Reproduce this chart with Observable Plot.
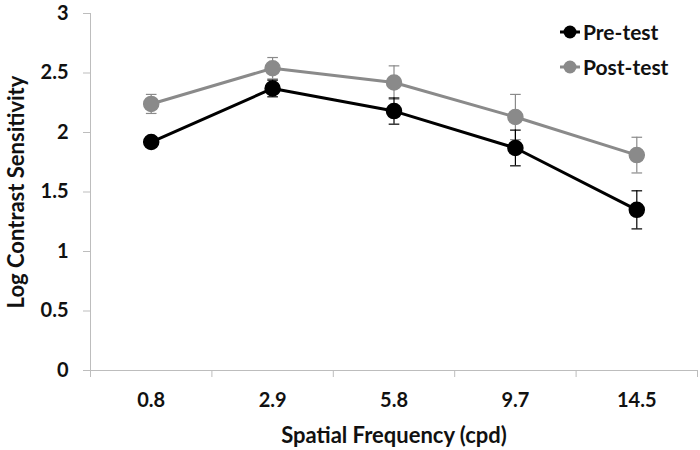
<!DOCTYPE html>
<html>
<head>
<meta charset="utf-8">
<script src="https://cdn.jsdelivr.net/npm/d3@7"></script>
<script src="https://cdn.jsdelivr.net/npm/@observablehq/plot@0.6"></script>
<style>
  html, body { margin: 0; padding: 0; background: #fff; }
  #wrap { position: relative; width: 700px; height: 450px; font-family: Lato, "Open Sans", sans-serif; }
  #legend { position: absolute; left: 559px; top: 14px; font-weight: bold; font-size: 21px; color: #111; }
  .item { display: flex; align-items: center; height: 35px; }
  .item svg { margin-right: 2px; }
</style>
</head>
<body>
<div id="wrap"></div>
<script>
const categories = ["0.8", "2.9", "5.8", "9.7", "14.5"];
const preTest  = [1.92, 2.37, 2.18, 1.87, 1.35];
const postTest = [2.24, 2.54, 2.42, 2.13, 1.81];
const preErr   = [0.03, 0.07, 0.11, 0.15, 0.16];
const postErr  = [0.08, 0.09, 0.14, 0.19, 0.15];
const yTicks   = [0, 0.5, 1, 1.5, 2, 2.5, 3];
const seriesNames = ["Pre-test", "Post-test"];
const seriesColors = ["#000000", "#8a8a8a"];

const rows = [];
[[preTest, preErr], [postTest, postErr]].forEach(([vals, errs], s) => {
  vals.forEach((v, i) => rows.push({series: seriesNames[s], i, v, lo: v - errs[i], hi: v + errs[i]}));
});
const pre = rows.filter(d => d.series === "Pre-test");
const post = rows.filter(d => d.series === "Post-test");

const cap = {draw(ctx, size) { const w = Math.sqrt(size); ctx.moveTo(-w, 0); ctx.lineTo(w, 0); }};
const boundaries = categories.map((_, i) => i - 0.5).concat([categories.length - 0.5]);

function seriesMarks(data, color) {
  return [
    Plot.ruleX(data, {x: "i", y1: "lo", y2: "hi", stroke: color, strokeWidth: 1.2}),
    Plot.dot(data, {x: "i", y: "lo", symbol: cap, r: 3, stroke: color, strokeWidth: 1.2, fill: "none"}),
    Plot.dot(data, {x: "i", y: "hi", symbol: cap, r: 3, stroke: color, strokeWidth: 1.2, fill: "none"}),
    Plot.line(data, {x: "i", y: "v", stroke: color, strokeWidth: 3}),
    Plot.dot(data, {x: "i", y: "v", r: 7.5, fill: color, stroke: color})
  ];
}

const chart = Plot.plot({
  width: 700,
  height: 450,
  marginLeft: 90,
  marginRight: 3,
  marginTop: 13,
  marginBottom: 80,
  style: {fontFamily: "Lato, 'Open Sans', sans-serif", fontWeight: "bold", fontSize: "20px", color: "#111", background: "#fff"},
  x: {domain: [-0.5, categories.length - 0.5]},
  y: {domain: [0, 3]},
  marks: [
    Plot.axisY({ticks: yTicks, tickFormat: d => String(d), tickSize: 7, tickPadding: 15, stroke: "#bdbdbd", fill: "#111",
      fontSize: 20, label: null}),
    Plot.axisY({ticks: [], label: "Log Contrast Sensitivity", labelAnchor: "center", labelOffset: 82, labelArrow: "none",
      fill: "#111", fontSize: 22}),
    Plot.axisX({ticks: boundaries, tickFormat: () => "", tickSize: 7, stroke: "#bdbdbd", label: null}),
    Plot.axisX({ticks: categories.map((_, i) => i), tickFormat: i => categories[i], tickSize: 0, tickPadding: 22,
      fill: "#111", fontSize: 20, label: null}),
    Plot.axisX({ticks: [], label: "Spatial Frequency (cpd)", labelAnchor: "center", labelOffset: 72, labelArrow: "none",
      fill: "#111", fontSize: 22}),
    Plot.ruleX([-0.5], {stroke: "#bdbdbd"}),
    Plot.ruleY([0], {stroke: "#bdbdbd"}),
    ...seriesMarks(post, seriesColors[1]),
    ...seriesMarks(pre, seriesColors[0])
  ]
});

const wrap = document.getElementById("wrap");
wrap.appendChild(chart);

const legend = document.createElement("div");
legend.id = "legend";
seriesNames.forEach((name, k) => {
  const item = document.createElement("div");
  item.className = "item";
  item.innerHTML = `<svg width="22" height="16"><line x1="1" y1="8" x2="21" y2="8" stroke="${seriesColors[k]}" stroke-width="3"/><circle cx="11" cy="8" r="6.5" fill="${seriesColors[k]}"/></svg><span>${name}</span>`;
  legend.appendChild(item);
});
wrap.appendChild(legend);
</script>
</body>
</html>
